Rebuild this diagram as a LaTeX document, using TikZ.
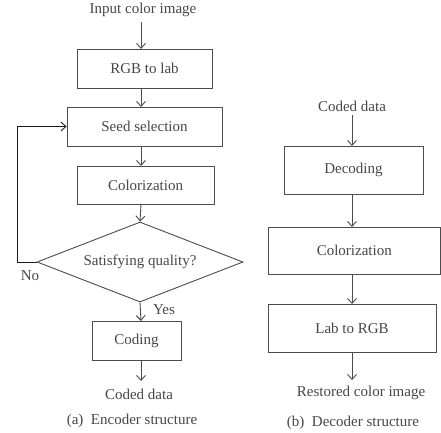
\documentclass[tikz,border=0pt]{standalone}
\usepackage{fontspec}
\setmainfont{Liberation Serif}
\usetikzlibrary{arrows.meta,shapes.geometric}
\begin{document}
\begin{tikzpicture}[x=1pt,y=-1pt,
  ink/.style={draw=black!70, line width=0.9pt},
  txt/.style={text=black!72, font=\fontsize{15}{18}\selectfont},
  box/.style={ink, txt, rectangle, inner sep=0pt},
  lbl/.style={txt, inner sep=0pt},
  dia/.style={ink, txt, diamond, aspect=2.575, inner sep=0pt, minimum width=206pt, minimum height=80pt},
  arr/.style={ink, -{Straight Barb[length=5pt,width=9pt]}}]
\fill[white] (0,0) rectangle (441,432);
\useasboundingbox (0,0) rectangle (441,432);
% Encoder
\node[lbl] (in) at (143,10) {Input color image};
\node[box, minimum width=135pt, minimum height=39pt] (rgb) at (144.5,68.5) {RGB to lab};
\node[box, minimum width=155pt, minimum height=39pt] (seed) at (144.5,126.5) {Seed selection};
\node[box, minimum width=137pt, minimum height=38pt] (col) at (145.5,185) {Colorization};
\node[dia] (sat) at (140,262) {Satisfying quality?};
\node[box, minimum width=89pt, minimum height=39pt] (cod) at (136.5,340.5) {Coding};
\node[lbl] (cd) at (139,394) {Coded data};
\node[lbl] (no) at (30,276) {No};
\node[lbl] (yes) at (164,310) {Yes};
\node[lbl] (capa) at (132,421) {(a)\ \ Encoder structure};
\coordinate (e0) at (141,22);
\coordinate (e1t) at (141,49);  \coordinate (e1b) at (141,88);
\coordinate (e2t) at (141,107); \coordinate (e2b) at (141,146);
\coordinate (e3t) at (141,166); \coordinate (e3b) at (141,204);
\coordinate (e5t) at (141,321); \coordinate (e5b) at (141,360);
\coordinate (e6) at (141,381);
\coordinate (lpb) at (17,262);
\draw[arr] (e0) -- (e1t);
\draw[arr] (e1b) -- (e2t);
\draw[arr] (e2b) -- (e3t);
\draw[arr] (e3b) -- (sat.north);
\draw[arr] (sat.south) -- (e5t);
\draw[arr] (e5b) -- (e6);
\draw[arr, draw=black!90] (sat.west) -- (lpb) |- (seed.west);
% Decoder
\node[lbl] (cd2) at (352,106) {Coded data};
\node[box, minimum width=139pt, minimum height=48pt] (dec) at (353.5,170) {Decoding};
\node[box, minimum width=172.5pt, minimum height=47pt] (col2) at (354.25,250.5) {Colorization};
\node[box, minimum width=168pt, minimum height=48pt] (lab) at (352,328) {Lab to RGB};
\node[lbl] (rest) at (361,393) {Restored color image};
\node[lbl] (capb) at (353,423) {(b)\ \ Decoder structure};
\coordinate (d0) at (352,115);
\coordinate (d1t) at (352,146); \coordinate (d1b) at (352,194);
\coordinate (d2t) at (352,227); \coordinate (d2b) at (352,274);
\coordinate (d3t) at (352,304); \coordinate (d3b) at (352,352);
\coordinate (d4) at (352,380);
\draw[arr] (d0) -- (d1t);
\draw[arr] (d1b) -- (d2t);
\draw[arr] (d2b) -- (d3t);
\draw[arr] (d3b) -- (d4);
\end{tikzpicture}
\end{document}
